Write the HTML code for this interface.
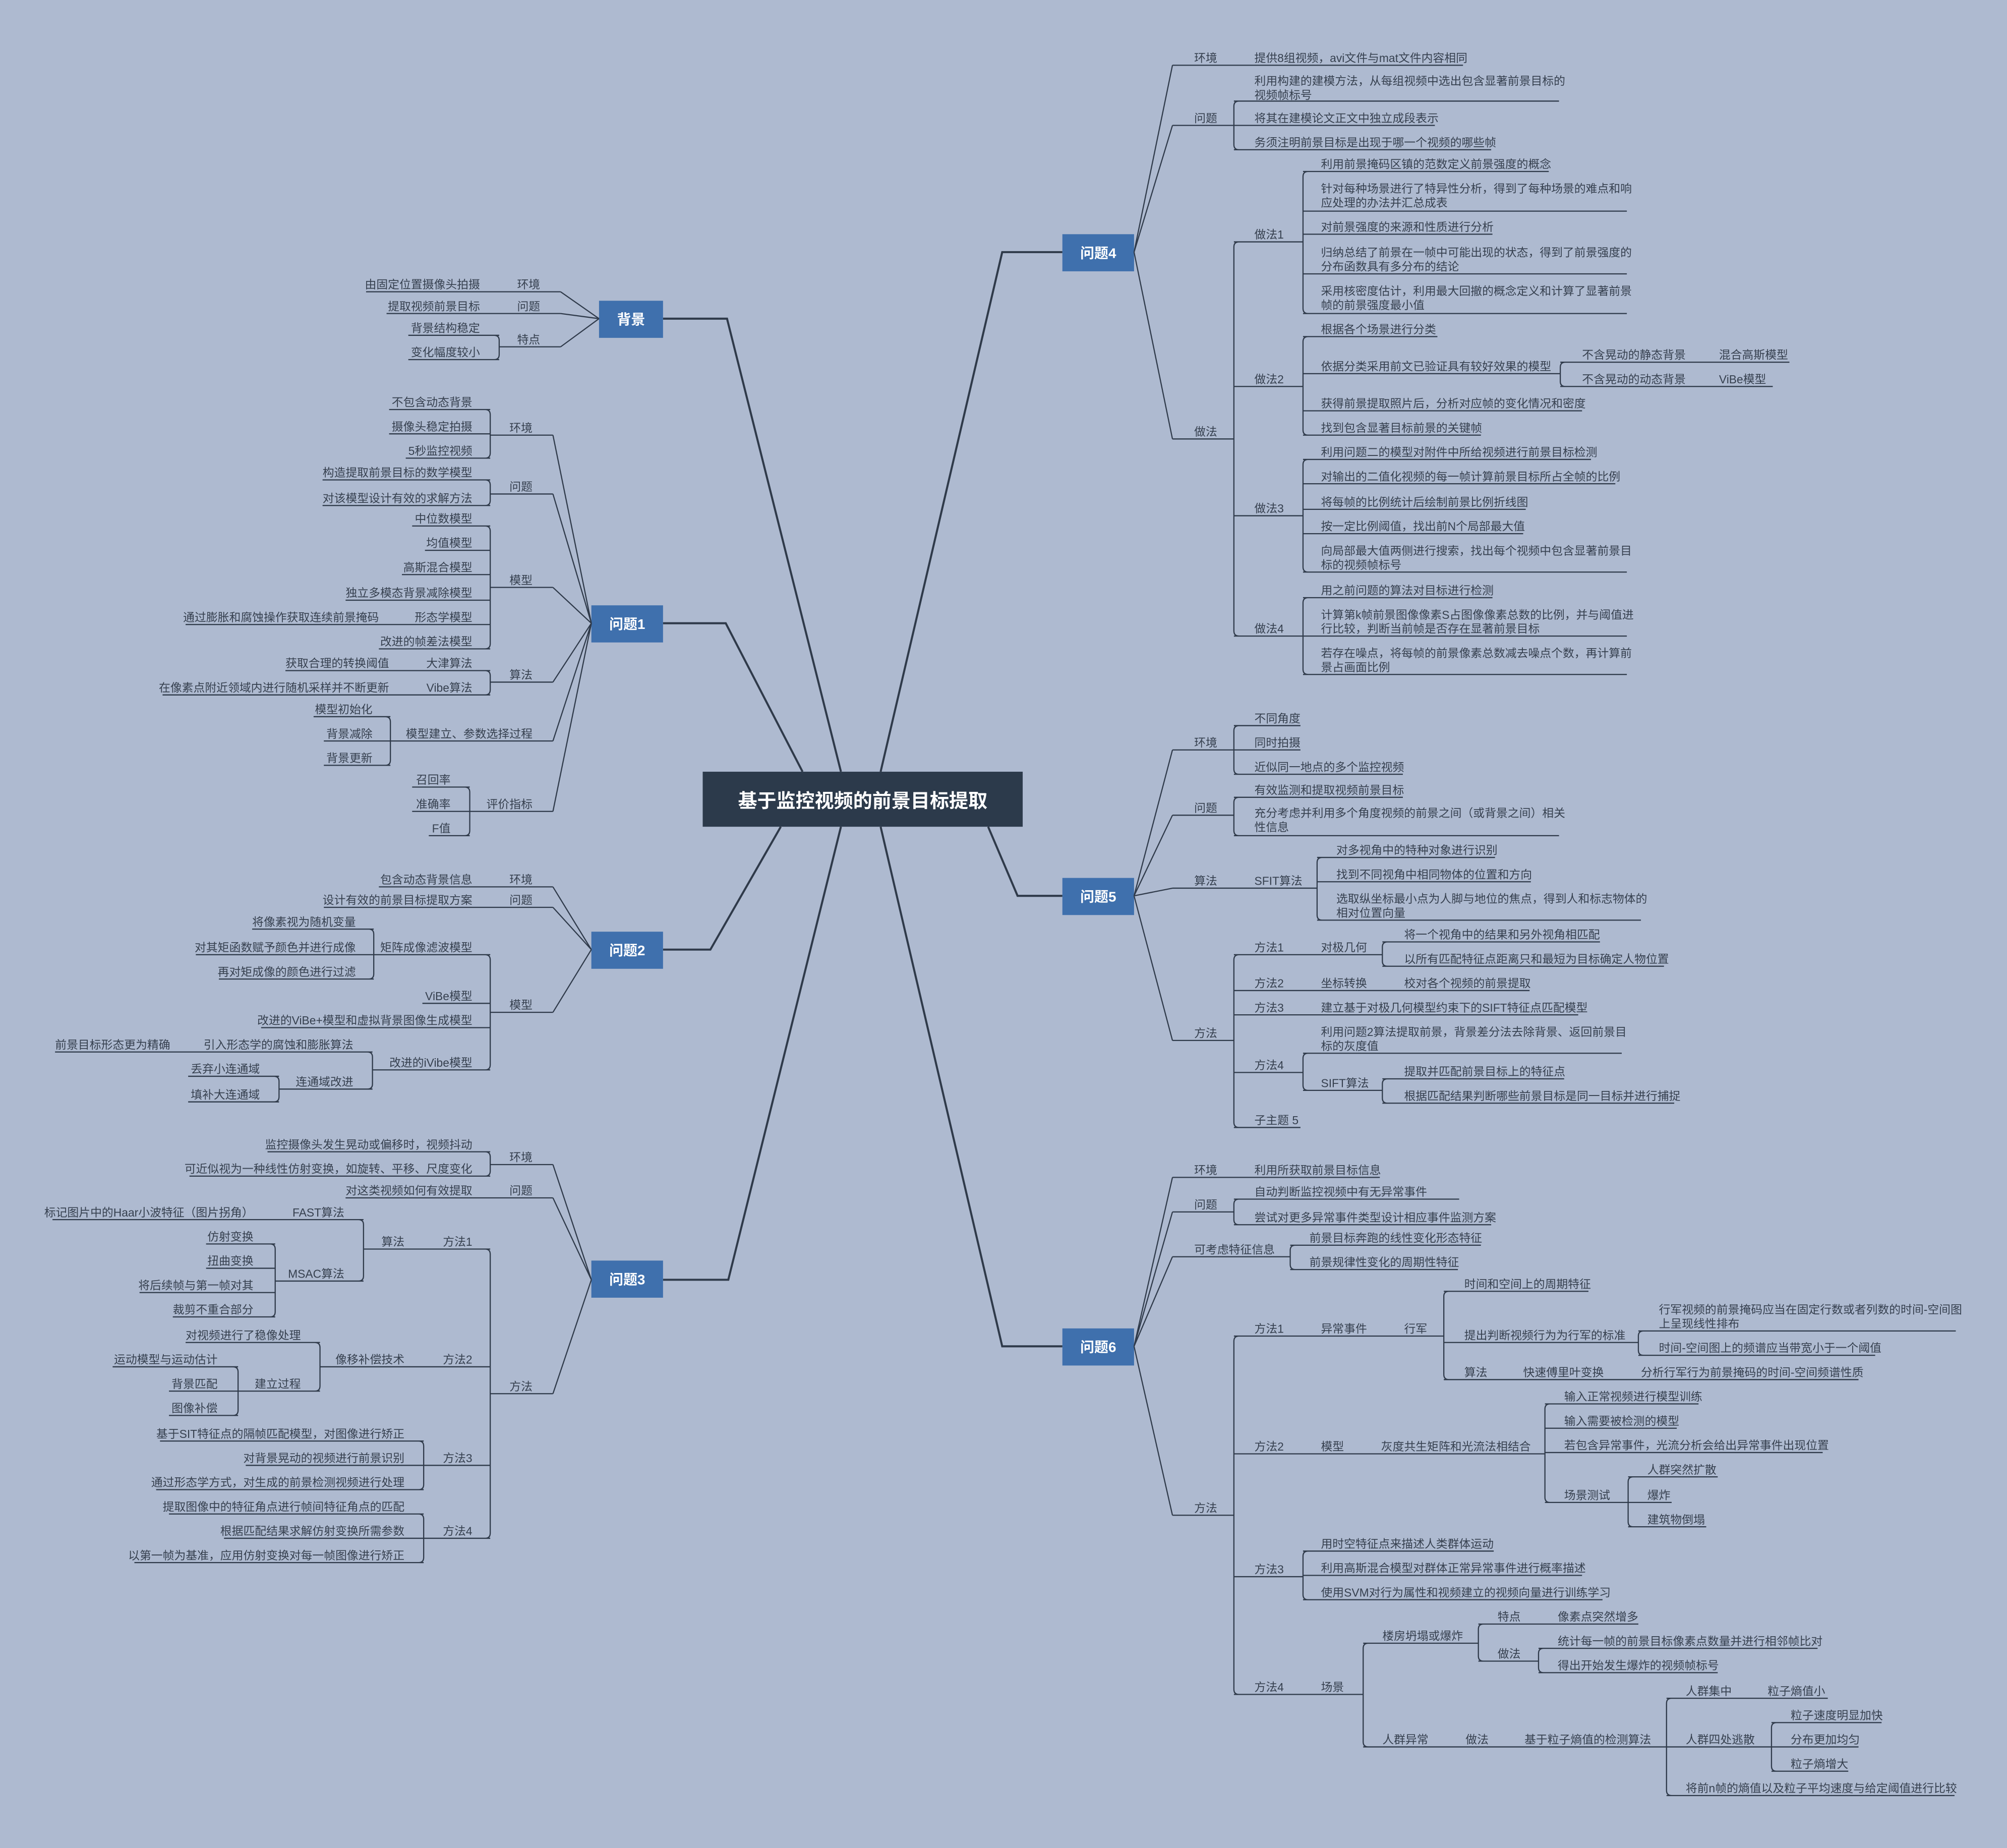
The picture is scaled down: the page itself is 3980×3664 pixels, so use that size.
<!DOCTYPE html>
<html><head><meta charset="utf-8">
<style>
html,body{margin:0;padding:0;background:#aebad0;}
svg{display:block}
text{font-family:"Liberation Sans","Noto Sans CJK SC",sans-serif;font-size:9px;fill:#36404f}
.e{text-anchor:end}
.n{fill:#fff;font-weight:bold;font-size:11px;text-anchor:middle}
.l{fill:none;stroke:#2f3a4a;stroke-width:0.9}
.m{fill:none;stroke:#2f3a4a;stroke-width:1.6}
</style></head><body>
<svg width="3980" height="3664" viewBox="0 0 1568 1444" preserveAspectRatio="none" xmlns="http://www.w3.org/2000/svg">
<rect width="1568" height="1444" fill="#aebad0"/>
<!-- main connectors -->
<path class="m" d="M518,249H568L657,603 M518,487H567L627,603 M518,742H555L610,646 M518,1000H569L657,646 M830,197H783L688,603 M830,700H795L772,646 M830,1052H783L688,646"/>
<rect x="549" y="603" width="250" height="43" fill="#2c3a4b"/>
<text x="674" y="631" class="n" style="font-size:15px">基于监控视频的前景目标提取</text>
<rect x="468" y="235" width="50" height="29" fill="#3f70ad"/><text x="493" y="253.5" class="n">背景</text>
<rect x="462" y="473" width="56" height="29" fill="#3f70ad"/><text x="490" y="491.5" class="n">问题1</text>
<rect x="462" y="728" width="56" height="29" fill="#3f70ad"/><text x="490" y="746.5" class="n">问题2</text>
<rect x="462" y="985" width="56" height="29" fill="#3f70ad"/><text x="490" y="1003.5" class="n">问题3</text>
<rect x="830" y="183" width="56" height="29" fill="#3f70ad"/><text x="858" y="201.5" class="n">问题4</text>
<rect x="830" y="686" width="56" height="29" fill="#3f70ad"/><text x="858" y="704.5" class="n">问题5</text>
<rect x="830" y="1038" width="56" height="29" fill="#3f70ad"/><text x="858" y="1056.5" class="n">问题6</text>

<!-- 问题4 lines -->
<path class="l" d="M886,197L916,51 M886,197L916,98 M886,197L916,343
M916,51H1143 M916,98H964 M968,79Q964,79 964,83V113Q964,117 968,117 M964,79H1218 M964,98H1121 M964,117H1165
M916,343H964 M968,189Q964,189 964,193V493Q964,497 968,497 M964,189H1018 M964,302H1018 M964,403H1018 M964,497H1018
M1022,134Q1018,134 1018,138V241Q1018,245 1022,245 M1018,134H1210 M1018,165H1271 M1018,183H1166 M1018,214H1271 M1018,245H1271
M1022,263Q1018,263 1018,267V336Q1018,340 1022,340 M1018,263H1123 M1018,292H1219 M1018,321H1236 M1018,340H1157
M1223,283Q1219,283 1219,287V298Q1219,302 1223,302 M1219,283H1398 M1219,302H1385
M1022,359Q1018,359 1018,363V443Q1018,447 1022,447 M1018,359H1243 M1018,378H1262 M1018,398H1192 M1018,417H1190 M1018,447H1271
M1022,467Q1018,467 1018,471V523Q1018,527 1022,527 M1018,467H1166 M1018,497H1271 M1018,527H1271"/>
<text x="933" y="48.5">环境</text><text x="980" y="48.5">提供8组视频，avi文件与mat文件内容相同</text>
<text x="933" y="95.5">问题</text>
<text x="980" y="66.5">利用构建的建模方法，从每组视频中选出包含显著前景目标的</text><text x="980" y="77.5">视频帧标号</text>
<text x="980" y="95.5">将其在建模论文正文中独立成段表示</text>
<text x="980" y="114.5">务须注明前景目标是出现于哪一个视频的哪些帧</text>
<text x="933" y="340.5">做法</text>
<text x="980" y="186.5">做法1</text><text x="980" y="299.5">做法2</text><text x="980" y="400.5">做法3</text><text x="980" y="494.5">做法4</text>
<text x="1032" y="131.5">利用前景掩码区镇的范数定义前景强度的概念</text>
<text x="1032" y="150.5">针对每种场景进行了特异性分析，得到了每种场景的难点和响</text><text x="1032" y="161.5">应处理的办法并汇总成表</text>
<text x="1032" y="180.5">对前景强度的来源和性质进行分析</text>
<text x="1032" y="200.5">归纳总结了前景在一帧中可能出现的状态，得到了前景强度的</text><text x="1032" y="211.5">分布函数具有多分布的结论</text>
<text x="1032" y="230.5">采用核密度估计，利用最大回撤的概念定义和计算了显著前景</text><text x="1032" y="241.5">帧的前景强度最小值</text>
<text x="1032" y="260.5">根据各个场景进行分类</text>
<text x="1032" y="289.5">依据分类采用前文已验证具有较好效果的模型</text>
<text x="1236" y="280.5">不含晃动的静态背景</text><text x="1343" y="280.5">混合高斯模型</text>
<text x="1236" y="299.5">不含晃动的动态背景</text><text x="1343" y="299.5">ViBe模型</text>
<text x="1032" y="318.5">获得前景提取照片后，分析对应帧的变化情况和密度</text>
<text x="1032" y="337.5">找到包含显著目标前景的关键帧</text>
<text x="1032" y="356.5">利用问题二的模型对附件中所给视频进行前景目标检测</text>
<text x="1032" y="375.5">对输出的二值化视频的每一帧计算前景目标所占全帧的比例</text>
<text x="1032" y="395.5">将每帧的比例统计后绘制前景比例折线图</text>
<text x="1032" y="414.5">按一定比例阈值，找出前N个局部最大值</text>
<text x="1032" y="433.5">向局部最大值两侧进行搜索，找出每个视频中包含显著前景目</text><text x="1032" y="444.5">标的视频帧标号</text>
<text x="1032" y="464.5">用之前问题的算法对目标进行检测</text>
<text x="1032" y="483.5">计算第k帧前景图像像素S占图像像素总数的比例，并与阈值进</text><text x="1032" y="494.5">行比较，判断当前帧是否存在显著前景目标</text>
<text x="1032" y="513.5">若存在噪点，将每帧的前景像素总数减去噪点个数，再计算前</text><text x="1032" y="524.5">景占画面比例</text>

<!-- 问题5 -->
<path class="l" d="M886,700L916,586 M886,700L916,637 M886,700L916,694 M886,700L916,813
M916,586H964 M968,567Q964,567 964,571V601Q964,605 968,605 M964,567H1016 M964,586H1016 M964,605H1096
M916,637H964 M968,623Q964,623 964,627V649Q964,653 968,653 M964,623H1096 M964,653H1218
M916,694H1029 M1033,670Q1029,670 1029,674V715Q1029,719 1033,719 M1029,670H1168 M1029,689H1196 M1029,719H1282
M916,813H964 M968,746Q964,746 964,750V877Q964,881 968,881
M964,746H1080 M1084,736Q1080,736 1080,740V751Q1080,755 1084,755 M1080,736H1250 M1080,755H1300
M964,774H1195 M964,793H1233
M964,838H1018 M1022,823Q1018,823 1018,827V848Q1018,852 1022,852 M1018,823H1267 M1018,852H1080
M1084,843Q1080,843 1080,847V858Q1080,862 1084,862 M1080,843H1222 M1080,862H1308 M964,881H1016"/>
<text x="933" y="583.5">环境</text>
<text x="980" y="564.5">不同角度</text><text x="980" y="583.5">同时拍摄</text><text x="980" y="602.5">近似同一地点的多个监控视频</text>
<text x="933" y="634.5">问题</text>
<text x="980" y="620.5">有效监测和提取视频前景目标</text>
<text x="980" y="638.5">充分考虑并利用多个角度视频的前景之间（或背景之间）相关</text><text x="980" y="649.5">性信息</text>
<text x="933" y="691.5">算法</text><text x="980" y="691.5">SFIT算法</text>
<text x="1044" y="667.5">对多视角中的特种对象进行识别</text>
<text x="1044" y="686.5">找到不同视角中相同物体的位置和方向</text>
<text x="1044" y="705.5">选取纵坐标最小点为人脚与地位的焦点，得到人和标志物体的</text><text x="1044" y="716.5">相对位置向量</text>
<text x="933" y="810.5">方法</text>
<text x="980" y="743.5">方法1</text><text x="1032" y="743.5">对极几何</text>
<text x="1097" y="733.5">将一个视角中的结果和另外视角相匹配</text>
<text x="1097" y="752.5">以所有匹配特征点距离只和最短为目标确定人物位置</text>
<text x="980" y="771.5">方法2</text><text x="1032" y="771.5">坐标转换</text><text x="1097" y="771.5">校对各个视频的前景提取</text>
<text x="980" y="790.5">方法3</text><text x="1032" y="790.5">建立基于对极几何模型约束下的SIFT特征点匹配模型</text>
<text x="980" y="835.5">方法4</text>
<text x="1032" y="809.5">利用问题2算法提取前景，背景差分法去除背景、返回前景目</text><text x="1032" y="820.5">标的灰度值</text>
<text x="1032" y="849.5">SIFT算法</text>
<text x="1097" y="840.5">提取并匹配前景目标上的特征点</text>
<text x="1097" y="859.5">根据匹配结果判断哪些前景目标是同一目标并进行捕捉</text>
<text x="980" y="878.5">子主题 5</text>

<!-- 问题6 -->
<path class="l" d="M886,1052L916,920 M886,1052L916,947 M886,1052L916,982 M886,1052L916,1184
M916,920H1078 M916,947H964 M968,937Q964,937 964,941V953Q964,957 968,957 M964,937H1140 M964,957H1165
M916,982H1008 M1012,973Q1008,973 1008,977V988Q1008,992 1012,992 M1008,973H1157 M1008,992H1139
M916,1184H964 M968,1044Q964,1044 964,1048V1320Q964,1324 968,1324
M964,1044H1128 M1132,1009Q1128,1009 1128,1013V1074Q1128,1078 1132,1078 M1128,1009H1241 M1128,1049H1280
M1284,1040Q1280,1040 1280,1044V1055Q1280,1059 1284,1059 M1280,1040H1528 M1280,1059H1465 M1128,1078H1452
M964,1136H1207 M1211,1097Q1207,1097 1207,1101V1170Q1207,1174 1211,1174 M1207,1097H1327 M1207,1116H1310 M1207,1135H1424 M1207,1174H1272
M1276,1154Q1272,1154 1272,1158V1189Q1272,1193 1276,1193 M1272,1154H1342 M1272,1174H1306 M1272,1193H1333
M964,1232H1018 M1022,1212Q1018,1212 1018,1216V1246Q1018,1250 1022,1250 M1018,1212H1167 M1018,1231H1236 M1018,1250H1252
M964,1324H1065 M1069,1284Q1065,1284 1065,1288V1361Q1065,1365 1069,1365
M1065,1284H1155 M1159,1269Q1155,1269 1155,1273V1294Q1155,1298 1159,1298 M1155,1269H1280 M1155,1298H1202
M1206,1288Q1202,1288 1202,1292V1303Q1202,1307 1206,1307 M1202,1288H1420 M1202,1307H1342
M1065,1365H1302 M1306,1327Q1302,1327 1302,1331V1399Q1302,1403 1306,1403 M1302,1327H1428 M1302,1365H1384
M1388,1346Q1384,1346 1384,1350V1380Q1384,1384 1388,1384 M1384,1346H1470 M1384,1365H1452 M1384,1384H1444 M1302,1403H1527"/>
<text x="933" y="917.5">环境</text><text x="980" y="917.5">利用所获取前景目标信息</text>
<text x="933" y="944.5">问题</text>
<text x="980" y="934.5">自动判断监控视频中有无异常事件</text>
<text x="980" y="954.5">尝试对更多异常事件类型设计相应事件监测方案</text>
<text x="933" y="979.5">可考虑特征信息</text>
<text x="1023" y="970.5">前景目标奔跑的线性变化形态特征</text>
<text x="1023" y="989.5">前景规律性变化的周期性特征</text>
<text x="933" y="1181.5">方法</text>
<text x="980" y="1041.5">方法1</text><text x="1032" y="1041.5">异常事件</text><text x="1097" y="1041.5">行军</text>
<text x="1144" y="1006.5">时间和空间上的周期特征</text>
<text x="1144" y="1046.5">提出判断视频行为为行军的标准</text>
<text x="1296" y="1026.5">行军视频的前景掩码应当在固定行数或者列数的时间-空间图</text><text x="1296" y="1037.5">上呈现线性排布</text>
<text x="1296" y="1056.5">时间-空间图上的频谱应当带宽小于一个阈值</text>
<text x="1144" y="1075.5">算法</text><text x="1190" y="1075.5">快速傅里叶变换</text><text x="1282" y="1075.5">分析行军行为前景掩码的时间-空间频谱性质</text>
<text x="980" y="1133.5">方法2</text><text x="1032" y="1133.5">模型</text><text x="1079" y="1133.5">灰度共生矩阵和光流法相结合</text>
<text x="1222" y="1094.5">输入正常视频进行模型训练</text>
<text x="1222" y="1113.5">输入需要被检测的模型</text>
<text x="1222" y="1132.5">若包含异常事件，光流分析会给出异常事件出现位置</text>
<text x="1222" y="1171.5">场景测试</text>
<text x="1287" y="1151.5">人群突然扩散</text><text x="1287" y="1171.5">爆炸</text><text x="1287" y="1190.5">建筑物倒塌</text>
<text x="980" y="1229.5">方法3</text>
<text x="1032" y="1209.5">用时空特征点来描述人类群体运动</text>
<text x="1032" y="1228.5">利用高斯混合模型对群体正常异常事件进行概率描述</text>
<text x="1032" y="1247.5">使用SVM对行为属性和视频建立的视频向量进行训练学习</text>
<text x="980" y="1321.5">方法4</text><text x="1032" y="1321.5">场景</text>
<text x="1080" y="1281.5">楼房坍塌或爆炸</text>
<text x="1170" y="1266.5">特点</text><text x="1217" y="1266.5">像素点突然增多</text>
<text x="1170" y="1295.5">做法</text>
<text x="1217" y="1285.5">统计每一帧的前景目标像素点数量并进行相邻帧比对</text>
<text x="1217" y="1304.5">得出开始发生爆炸的视频帧标号</text>
<text x="1080" y="1362.5">人群异常</text><text x="1145" y="1362.5">做法</text><text x="1191" y="1362.5">基于粒子熵值的检测算法</text>
<text x="1317" y="1324.5">人群集中</text><text x="1381" y="1324.5">粒子熵值小</text>
<text x="1317" y="1362.5">人群四处逃散</text>
<text x="1399" y="1343.5">粒子速度明显加快</text><text x="1399" y="1362.5">分布更加均匀</text><text x="1399" y="1381.5">粒子熵增大</text>
<text x="1317" y="1400.5">将前n帧的熵值以及粒子平均速度与给定阈值进行比较</text>

<!-- 背景 -->
<path class="l" d="M468,249L438,228 M468,249L438,245 M468,249L438,271
M438,228H286 M438,245H302 M438,271H390 M386,262Q390,262 390,266V277Q390,281 386,281 M390,262H319 M390,281H319"/>
<text class="e" x="422" y="225.5">环境</text><text class="e" x="375" y="225.5">由固定位置摄像头拍摄</text>
<text class="e" x="422" y="242.5">问题</text><text class="e" x="375" y="242.5">提取视频前景目标</text>
<text class="e" x="422" y="268.5">特点</text><text class="e" x="375" y="259.5">背景结构稳定</text><text class="e" x="375" y="278.5">变化幅度较小</text>

<!-- 问题1 -->
<path class="l" d="M462,487L432,340 M462,487L432,386 M462,487L432,459 M462,487L432,533 M462,487L432,579 M462,487L432,634
M432,340H383 M379,320Q383,320 383,324V354Q383,358 379,358 M383,320H304 M383,339H304 M383,358H317
M432,386H383 M379,375Q383,375 383,379V391Q383,395 379,395 M383,375H252 M383,395H252
M432,459H383 M379,411Q383,411 383,415V503Q383,507 379,507 M383,411H322 M383,430H332 M383,449H314 M383,469H270 M383,488H145 M383,507H296
M432,533H383 M379,524Q383,524 383,528V539Q383,543 379,543 M383,524H223 M383,543H127
M432,579H305 M301,560Q305,560 305,564V594Q305,598 301,598 M305,560H245 M305,579H253 M305,598H253
M432,634H367 M363,615Q367,615 367,619V649Q367,653 363,653 M367,615H322 M367,634H322 M367,653H335"/>
<text class="e" x="416" y="337.5">环境</text>
<text class="e" x="369" y="317.5">不包含动态背景</text><text class="e" x="369" y="336.5">摄像头稳定拍摄</text><text class="e" x="369" y="355.5">5秒监控视频</text>
<text class="e" x="416" y="383.5">问题</text>
<text class="e" x="369" y="372.5">构造提取前景目标的数学模型</text><text class="e" x="369" y="392.5">对该模型设计有效的求解方法</text>
<text class="e" x="416" y="456.5">模型</text>
<text class="e" x="369" y="408.5">中位数模型</text><text class="e" x="369" y="427.5">均值模型</text><text class="e" x="369" y="446.5">高斯混合模型</text>
<text class="e" x="369" y="466.5">独立多模态背景减除模型</text>
<text class="e" x="369" y="485.5">形态学模型</text><text class="e" x="296" y="485.5">通过膨胀和腐蚀操作获取连续前景掩码</text>
<text class="e" x="369" y="504.5">改进的帧差法模型</text>
<text class="e" x="416" y="530.5">算法</text>
<text class="e" x="369" y="521.5">大津算法</text><text class="e" x="304" y="521.5">获取合理的转换阈值</text>
<text class="e" x="369" y="540.5">Vibe算法</text><text class="e" x="304" y="540.5">在像素点附近领域内进行随机采样并不断更新</text>
<text class="e" x="416" y="576.5">模型建立、参数选择过程</text>
<text class="e" x="291" y="557.5">模型初始化</text><text class="e" x="291" y="576.5">背景减除</text><text class="e" x="291" y="595.5">背景更新</text>
<text class="e" x="416" y="631.5">评价指标</text>
<text class="e" x="352" y="612.5">召回率</text><text class="e" x="352" y="631.5">准确率</text><text class="e" x="352" y="650.5">F值</text>

<!-- 问题2 -->
<path class="l" d="M462,742L432,693 M462,742L432,709 M462,742L432,791
M432,693H296 M432,709H253 M432,791H383 M379,746Q383,746 383,750V832Q383,836 379,836
M383,746H292 M288,726Q292,726 292,730V761Q292,765 288,765 M292,726H197 M292,746H153 M292,765H171
M383,784H330 M383,803H204 M383,836H291 M287,822Q291,822 291,826V847Q291,851 287,851 M291,822H43 M291,851H218
M214,841Q218,841 218,845V857Q218,861 214,861 M218,841H147 M218,861H147"/>
<text class="e" x="416" y="690.5">环境</text><text class="e" x="369" y="690.5">包含动态背景信息</text>
<text class="e" x="416" y="706.5">问题</text><text class="e" x="369" y="706.5">设计有效的前景目标提取方案</text>
<text class="e" x="416" y="788.5">模型</text>
<text class="e" x="369" y="743.5">矩阵成像滤波模型</text>
<text class="e" x="278" y="723.5">将像素视为随机变量</text><text class="e" x="278" y="743.5">对其矩函数赋予颜色并进行成像</text><text class="e" x="278" y="762.5">再对矩成像的颜色进行过滤</text>
<text class="e" x="369" y="781.5">ViBe模型</text>
<text class="e" x="369" y="800.5">改进的ViBe+模型和虚拟背景图像生成模型</text>
<text class="e" x="369" y="833.5">改进的iVibe模型</text>
<text class="e" x="276" y="819.5">引入形态学的腐蚀和膨胀算法</text><text class="e" x="133" y="819.5">前景目标形态更为精确</text>
<text class="e" x="276" y="848.5">连通域改进</text>
<text class="e" x="203" y="838.5">丢弃小连通域</text><text class="e" x="203" y="858.5">填补大连通域</text>

<!-- 问题3 -->
<path class="l" d="M462,1000L432,910 M462,1000L432,936 M462,1000L432,1089
M432,910H383 M379,900Q383,900 383,904V915Q383,919 379,919 M383,900H209 M383,919H148 M432,936H270
M432,1089H383 M379,976Q383,976 383,980V1198Q383,1202 379,1202
M383,976H284 M280,953Q284,953 284,957V997Q284,1001 280,1001 M284,953H41 M284,1001H215
M211,972Q215,972 215,976V1025Q215,1029 211,1029 M215,972H161 M215,991H161 M215,1010H109 M215,1029H135
M383,1068H250 M246,1049Q250,1049 250,1053V1083Q250,1087 246,1087 M250,1049H145 M250,1087H186
M182,1068Q186,1068 186,1072V1102Q186,1106 182,1106 M186,1068H88 M186,1087H132 M186,1106H132
M383,1145H331 M327,1126Q331,1126 331,1130V1160Q331,1164 327,1164 M331,1126H125 M331,1145H192 M331,1164H122
M383,1202H331 M327,1183Q331,1183 331,1187V1217Q331,1221 327,1221 M331,1183H132 M331,1202H175 M331,1221H105"/>
<text class="e" x="416" y="907.5">环境</text>
<text class="e" x="369" y="897.5">监控摄像头发生晃动或偏移时，视频抖动</text>
<text class="e" x="369" y="916.5">可近似视为一种线性仿射变换，如旋转、平移、尺度变化</text>
<text class="e" x="416" y="933.5">问题</text><text class="e" x="369" y="933.5">对这类视频如何有效提取</text>
<text class="e" x="416" y="1086.5">方法</text>
<text class="e" x="369" y="973.5">方法1</text><text class="e" x="316" y="973.5">算法</text>
<text class="e" x="269" y="950.5">FAST算法</text><text class="e" x="198" y="950.5">标记图片中的Haar小波特征（图片拐角）</text>
<text class="e" x="269" y="998.5">MSAC算法</text>
<text class="e" x="198" y="969.5">仿射变换</text><text class="e" x="198" y="988.5">扭曲变换</text><text class="e" x="198" y="1007.5">将后续帧与第一帧对其</text><text class="e" x="198" y="1026.5">裁剪不重合部分</text>
<text class="e" x="369" y="1065.5">方法2</text><text class="e" x="316" y="1065.5">像移补偿技术</text>
<text class="e" x="235" y="1046.5">对视频进行了稳像处理</text><text class="e" x="235" y="1084.5">建立过程</text>
<text class="e" x="170" y="1065.5">运动模型与运动估计</text><text class="e" x="170" y="1084.5">背景匹配</text><text class="e" x="170" y="1103.5">图像补偿</text>
<text class="e" x="369" y="1142.5">方法3</text>
<text class="e" x="316" y="1123.5">基于SIT特征点的隔帧匹配模型，对图像进行矫正</text>
<text class="e" x="316" y="1142.5">对背景晃动的视频进行前景识别</text>
<text class="e" x="316" y="1161.5">通过形态学方式，对生成的前景检测视频进行处理</text>
<text class="e" x="369" y="1199.5">方法4</text>
<text class="e" x="316" y="1180.5">提取图像中的特征角点进行帧间特征角点的匹配</text>
<text class="e" x="316" y="1199.5">根据匹配结果求解仿射变换所需参数</text>
<text class="e" x="316" y="1218.5">以第一帧为基准，应用仿射变换对每一帧图像进行矫正</text>
</svg>
</body></html>
